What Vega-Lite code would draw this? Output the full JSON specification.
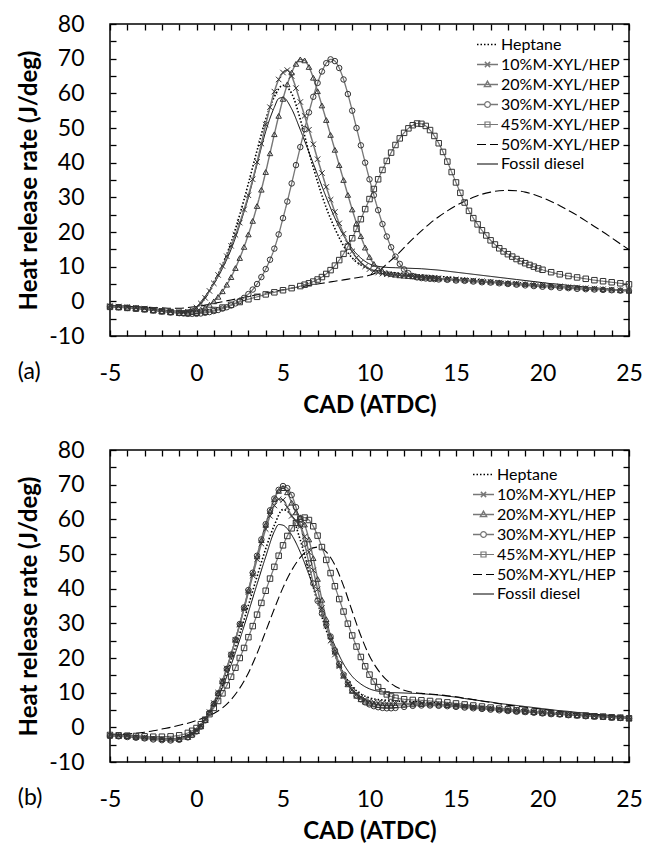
{
"$schema":"https://vega.github.io/schema/vega-lite/v6.json",
"padding":{"left":17,"top":12,"right":5,"bottom":2},
"spacing":20,
"resolve":{"scale":{"color":"independent","strokeDash":"independent","strokeWidth":"independent","shape":"independent"},"legend":{"color":"independent","strokeDash":"independent","strokeWidth":"independent","shape":"independent"}},
"config":{
"view":{"stroke":"black","strokeWidth":1.5},
"font":"Lato",
"axis":{"domain":false,"grid":false,"ticks":true,"tickColor":"black","tickWidth":1.3,"tickSize":-6,"labelFont":"Lato","labelFontSize":23,"labelColor":"black","titleFont":"Lato","titleFontSize":24,"titleFontWeight":"bold","titleColor":"black","labelOverlap":false,"labelFlush":false},
"legend":{"title":null,"labelFont":"Lato","labelFontSize":16,"labelColor":"black","symbolSize":441,"symbolStrokeWidth":1.2,"rowPadding":0,"labelOffset":2,"padding":0,"symbolType":"stroke"}
},
"datasets":{
"names":[{"s":"H","name":"Heptane"},{"s":"10","name":"10%M-XYL/HEP"},{"s":"20","name":"20%M-XYL/HEP"},{"s":"30","name":"30%M-XYL/HEP"},{"s":"45","name":"45%M-XYL/HEP"},{"s":"50","name":"50%M-XYL/HEP"},{"s":"D","name":"Fossil diesel"}],
"a":[
{"s":"H","x":-5,"y":-1.5},{"s":"H","x":-4.5,"y":-1.6},{"s":"H","x":-4,"y":-1.7},{"s":"H","x":-3.5,"y":-1.9},{"s":"H","x":-3,"y":-2.1},{"s":"H","x":-2.5,"y":-2.4},{"s":"H","x":-2,"y":-2.7},{"s":"H","x":-1.5,"y":-3},{"s":"H","x":-1,"y":-3.2},{"s":"H","x":-0.5,"y":-3},{"s":"H","x":0,"y":-2},{"s":"H","x":0.5,"y":1},{"s":"H","x":1,"y":5.5},{"s":"H","x":1.5,"y":10.5},{"s":"H","x":2,"y":17},{"s":"H","x":2.5,"y":25},{"s":"H","x":3,"y":34},{"s":"H","x":3.5,"y":43.5},{"s":"H","x":4,"y":52.5},{"s":"H","x":4.5,"y":59},{"s":"H","x":5,"y":62.3},{"s":"H","x":5.5,"y":60},{"s":"H","x":6,"y":52.5},{"s":"H","x":6.5,"y":43},{"s":"H","x":7,"y":34.5},{"s":"H","x":7.5,"y":27},{"s":"H","x":8,"y":21},{"s":"H","x":8.5,"y":16},{"s":"H","x":9,"y":12.5},{"s":"H","x":9.5,"y":10.5},{"s":"H","x":10,"y":9.3},{"s":"H","x":10.5,"y":8.7},{"s":"H","x":11,"y":8.4},{"s":"H","x":11.5,"y":8.2},{"s":"H","x":12,"y":8},{"s":"H","x":12.5,"y":7.8},{"s":"H","x":13,"y":7.6},{"s":"H","x":13.5,"y":7.4},{"s":"H","x":14,"y":7.2},{"s":"H","x":14.5,"y":7},{"s":"H","x":15,"y":6.8},{"s":"H","x":15.5,"y":6.6},{"s":"H","x":16,"y":6.4},{"s":"H","x":16.5,"y":6.2},{"s":"H","x":17,"y":6},{"s":"H","x":17.5,"y":5.8},{"s":"H","x":18,"y":5.6},{"s":"H","x":18.5,"y":5.4},{"s":"H","x":19,"y":5.2},{"s":"H","x":19.5,"y":5},{"s":"H","x":20,"y":4.8},{"s":"H","x":20.5,"y":4.6},{"s":"H","x":21,"y":4.4},{"s":"H","x":21.5,"y":4.2},{"s":"H","x":22,"y":4.1},{"s":"H","x":22.5,"y":3.9},{"s":"H","x":23,"y":3.7},{"s":"H","x":23.5,"y":3.6},{"s":"H","x":24,"y":3.4},{"s":"H","x":24.5,"y":3.3},{"s":"H","x":25,"y":3.1},
{"s":"D","x":-5,"y":-1.2},{"s":"D","x":-4.5,"y":-1.3},{"s":"D","x":-4,"y":-1.4},{"s":"D","x":-3.5,"y":-1.6},{"s":"D","x":-3,"y":-1.8},{"s":"D","x":-2.5,"y":-2.1},{"s":"D","x":-2,"y":-2.4},{"s":"D","x":-1.5,"y":-2.7},{"s":"D","x":-1,"y":-2.8},{"s":"D","x":-0.5,"y":-2.5},{"s":"D","x":0,"y":-1.5},{"s":"D","x":0.5,"y":1.5},{"s":"D","x":1,"y":5},{"s":"D","x":1.5,"y":9.5},{"s":"D","x":2,"y":15},{"s":"D","x":2.5,"y":22},{"s":"D","x":3,"y":30},{"s":"D","x":3.5,"y":39.5},{"s":"D","x":4,"y":49},{"s":"D","x":4.5,"y":56},{"s":"D","x":4.75,"y":58.5},{"s":"D","x":5,"y":58.8},{"s":"D","x":5.5,"y":55.5},{"s":"D","x":6,"y":49.5},{"s":"D","x":6.5,"y":43},{"s":"D","x":7,"y":36.5},{"s":"D","x":7.5,"y":30},{"s":"D","x":8,"y":24},{"s":"D","x":8.5,"y":19},{"s":"D","x":9,"y":15.2},{"s":"D","x":9.5,"y":12.5},{"s":"D","x":10,"y":10.8},{"s":"D","x":10.5,"y":10.1},{"s":"D","x":11,"y":9.8},{"s":"D","x":11.5,"y":9.7},{"s":"D","x":12,"y":9.6},{"s":"D","x":12.5,"y":9.5},{"s":"D","x":13,"y":9.4},{"s":"D","x":13.5,"y":9.2},{"s":"D","x":14,"y":9},{"s":"D","x":14.5,"y":8.7},{"s":"D","x":15,"y":8.4},{"s":"D","x":15.5,"y":8.1},{"s":"D","x":16,"y":7.8},{"s":"D","x":16.5,"y":7.5},{"s":"D","x":17,"y":7.2},{"s":"D","x":17.5,"y":6.9},{"s":"D","x":18,"y":6.6},{"s":"D","x":18.5,"y":6.3},{"s":"D","x":19,"y":6},{"s":"D","x":19.5,"y":5.7},{"s":"D","x":20,"y":5.4},{"s":"D","x":20.5,"y":5.1},{"s":"D","x":21,"y":4.9},{"s":"D","x":21.5,"y":4.6},{"s":"D","x":22,"y":4.4},{"s":"D","x":22.5,"y":4.1},{"s":"D","x":23,"y":3.9},{"s":"D","x":23.5,"y":3.7},{"s":"D","x":24,"y":3.5},{"s":"D","x":24.5,"y":3.3},{"s":"D","x":25,"y":3.1},
{"s":"50","x":-5,"y":-1.3},{"s":"50","x":-4.5,"y":-1.4},{"s":"50","x":-4,"y":-1.5},{"s":"50","x":-3.5,"y":-1.6},{"s":"50","x":-3,"y":-1.7},{"s":"50","x":-2.5,"y":-1.8},{"s":"50","x":-2,"y":-1.9},{"s":"50","x":-1.5,"y":-2},{"s":"50","x":-1,"y":-2},{"s":"50","x":-0.5,"y":-1.8},{"s":"50","x":0,"y":-1.5},{"s":"50","x":0.5,"y":-1.1},{"s":"50","x":1,"y":-0.6},{"s":"50","x":1.5,"y":-0.1},{"s":"50","x":2,"y":0.4},{"s":"50","x":2.5,"y":0.9},{"s":"50","x":3,"y":1.4},{"s":"50","x":3.5,"y":1.9},{"s":"50","x":4,"y":2.4},{"s":"50","x":4.5,"y":2.9},{"s":"50","x":5,"y":3.3},{"s":"50","x":5.5,"y":3.8},{"s":"50","x":6,"y":4.2},{"s":"50","x":6.5,"y":4.6},{"s":"50","x":7,"y":5},{"s":"50","x":7.5,"y":5.4},{"s":"50","x":8,"y":5.8},{"s":"50","x":8.5,"y":6.2},{"s":"50","x":9,"y":6.6},{"s":"50","x":9.5,"y":7},{"s":"50","x":10,"y":7.5},{"s":"50","x":10.5,"y":8.6},{"s":"50","x":11,"y":10.8},{"s":"50","x":11.5,"y":13},{"s":"50","x":12,"y":15.5},{"s":"50","x":12.5,"y":18},{"s":"50","x":13,"y":20.3},{"s":"50","x":13.5,"y":22.5},{"s":"50","x":14,"y":24.4},{"s":"50","x":14.5,"y":26.1},{"s":"50","x":15,"y":27.6},{"s":"50","x":15.5,"y":28.9},{"s":"50","x":16,"y":30},{"s":"50","x":16.5,"y":30.9},{"s":"50","x":17,"y":31.5},{"s":"50","x":17.5,"y":31.9},{"s":"50","x":18,"y":32},{"s":"50","x":18.5,"y":31.9},{"s":"50","x":19,"y":31.5},{"s":"50","x":19.5,"y":30.8},{"s":"50","x":20,"y":29.9},{"s":"50","x":20.5,"y":28.8},{"s":"50","x":21,"y":27.6},{"s":"50","x":21.5,"y":26.2},{"s":"50","x":22,"y":24.8},{"s":"50","x":22.5,"y":23.2},{"s":"50","x":23,"y":21.6},{"s":"50","x":23.5,"y":20},{"s":"50","x":24,"y":18.3},{"s":"50","x":24.5,"y":16.6},{"s":"50","x":25,"y":14.9},
{"s":"10","x":-5,"y":-1.4},{"s":"10","x":-4.5,"y":-1.5},{"s":"10","x":-4,"y":-1.7},{"s":"10","x":-3.5,"y":-1.9},{"s":"10","x":-3,"y":-2.1},{"s":"10","x":-2.5,"y":-2.4},{"s":"10","x":-2,"y":-2.7},{"s":"10","x":-1.5,"y":-3},{"s":"10","x":-1,"y":-3.2},{"s":"10","x":-0.75,"y":-3.2},{"s":"10","x":-0.5,"y":-3},{"s":"10","x":-0.25,"y":-2.6},{"s":"10","x":0,"y":-1.8},{"s":"10","x":0.25,"y":-0.6},{"s":"10","x":0.5,"y":1},{"s":"10","x":0.75,"y":3},{"s":"10","x":1,"y":5.2},{"s":"10","x":1.25,"y":7.6},{"s":"10","x":1.5,"y":10.2},{"s":"10","x":1.75,"y":13},{"s":"10","x":2,"y":16},{"s":"10","x":2.25,"y":19.2},{"s":"10","x":2.5,"y":22.7},{"s":"10","x":2.75,"y":26.5},{"s":"10","x":3,"y":30.6},{"s":"10","x":3.25,"y":35.2},{"s":"10","x":3.5,"y":40.2},{"s":"10","x":3.75,"y":45.5},{"s":"10","x":4,"y":51},{"s":"10","x":4.25,"y":56},{"s":"10","x":4.5,"y":60.5},{"s":"10","x":4.75,"y":64},{"s":"10","x":5,"y":66},{"s":"10","x":5.25,"y":66.7},{"s":"10","x":5.5,"y":65},{"s":"10","x":5.75,"y":61.5},{"s":"10","x":6,"y":57.5},{"s":"10","x":6.25,"y":53.5},{"s":"10","x":6.5,"y":49.5},{"s":"10","x":6.75,"y":45.3},{"s":"10","x":7,"y":41},{"s":"10","x":7.25,"y":37},{"s":"10","x":7.5,"y":33},{"s":"10","x":7.75,"y":29.3},{"s":"10","x":8,"y":25.8},{"s":"10","x":8.25,"y":22.5},{"s":"10","x":8.5,"y":19.5},{"s":"10","x":8.75,"y":16.8},{"s":"10","x":9,"y":14.4},{"s":"10","x":9.25,"y":12.6},{"s":"10","x":9.5,"y":11.2},{"s":"10","x":9.75,"y":10.1},{"s":"10","x":10,"y":9.3},{"s":"10","x":10.25,"y":8.7},{"s":"10","x":10.5,"y":8.3},{"s":"10","x":10.75,"y":8},{"s":"10","x":11,"y":7.8},{"s":"10","x":11.25,"y":7.7},{"s":"10","x":11.5,"y":7.6},{"s":"10","x":11.75,"y":7.5},{"s":"10","x":12,"y":7.4},{"s":"10","x":12.25,"y":7.3},{"s":"10","x":12.5,"y":7.2},{"s":"10","x":12.75,"y":7.1},{"s":"10","x":13,"y":7},{"s":"10","x":13.25,"y":6.9},{"s":"10","x":13.5,"y":6.8},{"s":"10","x":13.75,"y":6.7},{"s":"10","x":14,"y":6.6},{"s":"10","x":14.5,"y":6.4},{"s":"10","x":15,"y":6.3},{"s":"10","x":15.5,"y":6.1},{"s":"10","x":16,"y":6},{"s":"10","x":16.5,"y":5.8},{"s":"10","x":17,"y":5.6},{"s":"10","x":17.5,"y":5.4},{"s":"10","x":18,"y":5.2},{"s":"10","x":18.5,"y":5.1},{"s":"10","x":19,"y":4.9},{"s":"10","x":19.5,"y":4.7},{"s":"10","x":20,"y":4.6},{"s":"10","x":20.5,"y":4.4},{"s":"10","x":21,"y":4.3},{"s":"10","x":21.5,"y":4.1},{"s":"10","x":22,"y":4},{"s":"10","x":22.5,"y":3.8},{"s":"10","x":23,"y":3.7},{"s":"10","x":23.5,"y":3.5},{"s":"10","x":24,"y":3.4},{"s":"10","x":24.5,"y":3.2},{"s":"10","x":25,"y":3.1},
{"s":"20","x":-5,"y":-1.5},{"s":"20","x":-4.5,"y":-1.6},{"s":"20","x":-4,"y":-1.8},{"s":"20","x":-3.5,"y":-2},{"s":"20","x":-3,"y":-2.2},{"s":"20","x":-2.5,"y":-2.5},{"s":"20","x":-2,"y":-2.8},{"s":"20","x":-1.5,"y":-3.1},{"s":"20","x":-1,"y":-3.3},{"s":"20","x":-0.75,"y":-3.4},{"s":"20","x":-0.5,"y":-3.3},{"s":"20","x":-0.25,"y":-3.1},{"s":"20","x":0,"y":-2.8},{"s":"20","x":0.25,"y":-2.4},{"s":"20","x":0.5,"y":-1.8},{"s":"20","x":0.75,"y":-1},{"s":"20","x":1,"y":0},{"s":"20","x":1.25,"y":1.3},{"s":"20","x":1.5,"y":2.9},{"s":"20","x":1.75,"y":4.8},{"s":"20","x":2,"y":7},{"s":"20","x":2.25,"y":9.6},{"s":"20","x":2.5,"y":12.5},{"s":"20","x":2.75,"y":15.7},{"s":"20","x":3,"y":19.3},{"s":"20","x":3.25,"y":23.2},{"s":"20","x":3.5,"y":27.5},{"s":"20","x":3.75,"y":32.2},{"s":"20","x":4,"y":37.3},{"s":"20","x":4.25,"y":42.7},{"s":"20","x":4.5,"y":48.2},{"s":"20","x":4.75,"y":53.5},{"s":"20","x":5,"y":58.4},{"s":"20","x":5.25,"y":62.6},{"s":"20","x":5.5,"y":66},{"s":"20","x":5.75,"y":68.5},{"s":"20","x":6,"y":69.8},{"s":"20","x":6.25,"y":69.5},{"s":"20","x":6.5,"y":67.6},{"s":"20","x":6.75,"y":64.5},{"s":"20","x":7,"y":60.6},{"s":"20","x":7.25,"y":56.5},{"s":"20","x":7.5,"y":52.3},{"s":"20","x":7.75,"y":48},{"s":"20","x":8,"y":43.7},{"s":"20","x":8.25,"y":39.3},{"s":"20","x":8.5,"y":35},{"s":"20","x":8.75,"y":30.7},{"s":"20","x":9,"y":26.5},{"s":"20","x":9.25,"y":22.5},{"s":"20","x":9.5,"y":18.8},{"s":"20","x":9.75,"y":15.5},{"s":"20","x":10,"y":12.8},{"s":"20","x":10.25,"y":10.8},{"s":"20","x":10.5,"y":9.5},{"s":"20","x":10.75,"y":8.7},{"s":"20","x":11,"y":8.2},{"s":"20","x":11.25,"y":7.9},{"s":"20","x":11.5,"y":7.7},{"s":"20","x":11.75,"y":7.5},{"s":"20","x":12,"y":7.4},{"s":"20","x":12.25,"y":7.3},{"s":"20","x":12.5,"y":7.2},{"s":"20","x":12.75,"y":7.1},{"s":"20","x":13,"y":7},{"s":"20","x":13.25,"y":6.9},{"s":"20","x":13.5,"y":6.8},{"s":"20","x":13.75,"y":6.7},{"s":"20","x":14,"y":6.6},{"s":"20","x":14.5,"y":6.5},{"s":"20","x":15,"y":6.3},{"s":"20","x":15.5,"y":6.2},{"s":"20","x":16,"y":6},{"s":"20","x":16.5,"y":5.8},{"s":"20","x":17,"y":5.7},{"s":"20","x":17.5,"y":5.5},{"s":"20","x":18,"y":5.3},{"s":"20","x":18.5,"y":5.1},{"s":"20","x":19,"y":5},{"s":"20","x":19.5,"y":4.8},{"s":"20","x":20,"y":4.6},{"s":"20","x":20.5,"y":4.5},{"s":"20","x":21,"y":4.3},{"s":"20","x":21.5,"y":4.1},{"s":"20","x":22,"y":4},{"s":"20","x":22.5,"y":3.8},{"s":"20","x":23,"y":3.7},{"s":"20","x":23.5,"y":3.5},{"s":"20","x":24,"y":3.4},{"s":"20","x":24.5,"y":3.2},{"s":"20","x":25,"y":3.1},
{"s":"30","x":-5,"y":-1.6},{"s":"30","x":-4.5,"y":-1.7},{"s":"30","x":-4,"y":-1.9},{"s":"30","x":-3.5,"y":-2.1},{"s":"30","x":-3,"y":-2.3},{"s":"30","x":-2.5,"y":-2.6},{"s":"30","x":-2,"y":-2.9},{"s":"30","x":-1.5,"y":-3.2},{"s":"30","x":-1,"y":-3.4},{"s":"30","x":-0.75,"y":-3.5},{"s":"30","x":-0.5,"y":-3.6},{"s":"30","x":-0.25,"y":-3.6},{"s":"30","x":0,"y":-3.6},{"s":"30","x":0.25,"y":-3.5},{"s":"30","x":0.5,"y":-3.3},{"s":"30","x":0.75,"y":-3.1},{"s":"30","x":1,"y":-2.8},{"s":"30","x":1.25,"y":-2.5},{"s":"30","x":1.5,"y":-2.1},{"s":"30","x":1.75,"y":-1.7},{"s":"30","x":2,"y":-1.2},{"s":"30","x":2.25,"y":-0.6},{"s":"30","x":2.5,"y":0.1},{"s":"30","x":2.75,"y":1},{"s":"30","x":3,"y":2.1},{"s":"30","x":3.25,"y":3.4},{"s":"30","x":3.5,"y":5},{"s":"30","x":3.75,"y":7},{"s":"30","x":4,"y":9.3},{"s":"30","x":4.25,"y":12},{"s":"30","x":4.5,"y":15.2},{"s":"30","x":4.75,"y":19.3},{"s":"30","x":5,"y":24},{"s":"30","x":5.25,"y":28.8},{"s":"30","x":5.5,"y":34},{"s":"30","x":5.75,"y":39.3},{"s":"30","x":6,"y":44.5},{"s":"30","x":6.25,"y":49.7},{"s":"30","x":6.5,"y":54.5},{"s":"30","x":6.75,"y":59},{"s":"30","x":7,"y":63},{"s":"30","x":7.25,"y":66.3},{"s":"30","x":7.5,"y":68.7},{"s":"30","x":7.75,"y":69.8},{"s":"30","x":8,"y":69.3},{"s":"30","x":8.25,"y":67.3},{"s":"30","x":8.5,"y":64},{"s":"30","x":8.75,"y":59.8},{"s":"30","x":9,"y":55},{"s":"30","x":9.25,"y":50},{"s":"30","x":9.5,"y":45},{"s":"30","x":9.75,"y":40},{"s":"30","x":10,"y":35.2},{"s":"30","x":10.25,"y":30.6},{"s":"30","x":10.5,"y":26.3},{"s":"30","x":10.75,"y":22.3},{"s":"30","x":11,"y":18.7},{"s":"30","x":11.25,"y":15.6},{"s":"30","x":11.5,"y":12.9},{"s":"30","x":11.75,"y":10.8},{"s":"30","x":12,"y":9.2},{"s":"30","x":12.25,"y":8.1},{"s":"30","x":12.5,"y":7.3},{"s":"30","x":12.75,"y":6.9},{"s":"30","x":13,"y":6.7},{"s":"30","x":13.25,"y":6.6},{"s":"30","x":13.5,"y":6.5},{"s":"30","x":13.75,"y":6.4},{"s":"30","x":14,"y":6.3},{"s":"30","x":14.5,"y":6.2},{"s":"30","x":15,"y":6},{"s":"30","x":15.5,"y":5.9},{"s":"30","x":16,"y":5.7},{"s":"30","x":16.5,"y":5.5},{"s":"30","x":17,"y":5.4},{"s":"30","x":17.5,"y":5.2},{"s":"30","x":18,"y":5},{"s":"30","x":18.5,"y":4.8},{"s":"30","x":19,"y":4.6},{"s":"30","x":19.5,"y":4.4},{"s":"30","x":20,"y":4.2},{"s":"30","x":20.5,"y":4.1},{"s":"30","x":21,"y":3.9},{"s":"30","x":21.5,"y":3.8},{"s":"30","x":22,"y":3.6},{"s":"30","x":22.5,"y":3.5},{"s":"30","x":23,"y":3.4},{"s":"30","x":23.5,"y":3.3},{"s":"30","x":24,"y":3.2},{"s":"30","x":24.5,"y":3.1},{"s":"30","x":25,"y":3},
{"s":"45","x":-5,"y":-1.6},{"s":"45","x":-4.5,"y":-1.7},{"s":"45","x":-4,"y":-1.9},{"s":"45","x":-3.5,"y":-2.1},{"s":"45","x":-3,"y":-2.3},{"s":"45","x":-2.5,"y":-2.6},{"s":"45","x":-2,"y":-2.9},{"s":"45","x":-1.5,"y":-3.1},{"s":"45","x":-1,"y":-3.3},{"s":"45","x":-0.5,"y":-3.4},{"s":"45","x":0,"y":-3.3},{"s":"45","x":0.5,"y":-3},{"s":"45","x":1,"y":-2.5},{"s":"45","x":1.5,"y":-1.8},{"s":"45","x":2,"y":-1},{"s":"45","x":2.5,"y":-0.2},{"s":"45","x":3,"y":0.6},{"s":"45","x":3.5,"y":1.3},{"s":"45","x":4,"y":2},{"s":"45","x":4.5,"y":2.6},{"s":"45","x":5,"y":3.2},{"s":"45","x":5.5,"y":3.8},{"s":"45","x":6,"y":4.4},{"s":"45","x":6.25,"y":4.8},{"s":"45","x":6.5,"y":5.2},{"s":"45","x":6.75,"y":5.7},{"s":"45","x":7,"y":6.3},{"s":"45","x":7.25,"y":7},{"s":"45","x":7.5,"y":7.9},{"s":"45","x":7.75,"y":9},{"s":"45","x":8,"y":10.3},{"s":"45","x":8.25,"y":11.9},{"s":"45","x":8.5,"y":13.7},{"s":"45","x":8.75,"y":15.8},{"s":"45","x":9,"y":18.2},{"s":"45","x":9.25,"y":20.9},{"s":"45","x":9.5,"y":23.7},{"s":"45","x":9.75,"y":26.6},{"s":"45","x":10,"y":29.5},{"s":"45","x":10.25,"y":32.4},{"s":"45","x":10.5,"y":35.2},{"s":"45","x":10.75,"y":37.9},{"s":"45","x":11,"y":40.5},{"s":"45","x":11.25,"y":42.9},{"s":"45","x":11.5,"y":45.1},{"s":"45","x":11.75,"y":47},{"s":"45","x":12,"y":48.6},{"s":"45","x":12.25,"y":49.9},{"s":"45","x":12.5,"y":50.8},{"s":"45","x":12.75,"y":51.3},{"s":"45","x":13,"y":51.2},{"s":"45","x":13.25,"y":50.6},{"s":"45","x":13.5,"y":49.4},{"s":"45","x":13.75,"y":47.7},{"s":"45","x":14,"y":45.6},{"s":"45","x":14.25,"y":43.1},{"s":"45","x":14.5,"y":40.3},{"s":"45","x":14.75,"y":37.3},{"s":"45","x":15,"y":34.3},{"s":"45","x":15.25,"y":31.3},{"s":"45","x":15.5,"y":28.5},{"s":"45","x":15.75,"y":26.1},{"s":"45","x":16,"y":24},{"s":"45","x":16.25,"y":22.2},{"s":"45","x":16.5,"y":20.5},{"s":"45","x":16.75,"y":19},{"s":"45","x":17,"y":17.6},{"s":"45","x":17.25,"y":16.4},{"s":"45","x":17.5,"y":15.3},{"s":"45","x":17.75,"y":14.4},{"s":"45","x":18,"y":13.6},{"s":"45","x":18.25,"y":12.9},{"s":"45","x":18.5,"y":12.2},{"s":"45","x":18.75,"y":11.6},{"s":"45","x":19,"y":11},{"s":"45","x":19.25,"y":10.5},{"s":"45","x":19.5,"y":10},{"s":"45","x":19.75,"y":9.5},{"s":"45","x":20,"y":9.1},{"s":"45","x":20.5,"y":8.4},{"s":"45","x":21,"y":7.8},{"s":"45","x":21.5,"y":7.3},{"s":"45","x":22,"y":6.9},{"s":"45","x":22.5,"y":6.5},{"s":"45","x":23,"y":6.1},{"s":"45","x":23.5,"y":5.8},{"s":"45","x":24,"y":5.5},{"s":"45","x":24.5,"y":5.2},{"s":"45","x":25,"y":4.9}
],
"b":[
{"s":"H","x":-5,"y":-2.2},{"s":"H","x":-4.5,"y":-2.3},{"s":"H","x":-4,"y":-2.4},{"s":"H","x":-3.5,"y":-2.6},{"s":"H","x":-3,"y":-2.8},{"s":"H","x":-2.5,"y":-3},{"s":"H","x":-2,"y":-3.2},{"s":"H","x":-1.5,"y":-3.3},{"s":"H","x":-1,"y":-3.1},{"s":"H","x":-0.5,"y":-2.4},{"s":"H","x":0,"y":-0.8},{"s":"H","x":0.5,"y":2.3},{"s":"H","x":1,"y":6.5},{"s":"H","x":1.5,"y":12.3},{"s":"H","x":2,"y":19.3},{"s":"H","x":2.5,"y":27},{"s":"H","x":3,"y":35.2},{"s":"H","x":3.5,"y":43.5},{"s":"H","x":4,"y":51.5},{"s":"H","x":4.5,"y":58.3},{"s":"H","x":5,"y":62.8},{"s":"H","x":5.5,"y":61},{"s":"H","x":6,"y":54},{"s":"H","x":6.5,"y":45},{"s":"H","x":7,"y":36},{"s":"H","x":7.5,"y":28},{"s":"H","x":8,"y":21},{"s":"H","x":8.5,"y":15.5},{"s":"H","x":9,"y":11.8},{"s":"H","x":9.5,"y":9.6},{"s":"H","x":10,"y":8.5},{"s":"H","x":10.5,"y":8},{"s":"H","x":11,"y":7.8},{"s":"H","x":11.5,"y":7.6},{"s":"H","x":12,"y":7.5},{"s":"H","x":12.5,"y":7.4},{"s":"H","x":13,"y":7.3},{"s":"H","x":13.5,"y":7.1},{"s":"H","x":14,"y":7},{"s":"H","x":14.5,"y":6.8},{"s":"H","x":15,"y":6.6},{"s":"H","x":15.5,"y":6.4},{"s":"H","x":16,"y":6.2},{"s":"H","x":16.5,"y":6},{"s":"H","x":17,"y":5.8},{"s":"H","x":17.5,"y":5.5},{"s":"H","x":18,"y":5.3},{"s":"H","x":18.5,"y":5.1},{"s":"H","x":19,"y":4.9},{"s":"H","x":19.5,"y":4.7},{"s":"H","x":20,"y":4.5},{"s":"H","x":20.5,"y":4.3},{"s":"H","x":21,"y":4.1},{"s":"H","x":21.5,"y":3.9},{"s":"H","x":22,"y":3.8},{"s":"H","x":22.5,"y":3.6},{"s":"H","x":23,"y":3.4},{"s":"H","x":23.5,"y":3.3},{"s":"H","x":24,"y":3.1},{"s":"H","x":24.5,"y":2.9},{"s":"H","x":25,"y":2.8},
{"s":"D","x":-5,"y":-2},{"s":"D","x":-4.5,"y":-2.1},{"s":"D","x":-4,"y":-2.3},{"s":"D","x":-3.5,"y":-2.5},{"s":"D","x":-3,"y":-2.7},{"s":"D","x":-2.5,"y":-3},{"s":"D","x":-2,"y":-3.2},{"s":"D","x":-1.5,"y":-3.3},{"s":"D","x":-1,"y":-3},{"s":"D","x":-0.5,"y":-2.2},{"s":"D","x":0,"y":-0.6},{"s":"D","x":0.5,"y":2.3},{"s":"D","x":1,"y":6.2},{"s":"D","x":1.5,"y":11.5},{"s":"D","x":2,"y":18},{"s":"D","x":2.5,"y":25.3},{"s":"D","x":3,"y":33.2},{"s":"D","x":3.5,"y":41.3},{"s":"D","x":4,"y":49.2},{"s":"D","x":4.5,"y":56.5},{"s":"D","x":4.75,"y":58.5},{"s":"D","x":5,"y":58.3},{"s":"D","x":5.5,"y":55.5},{"s":"D","x":6,"y":50.5},{"s":"D","x":6.5,"y":44},{"s":"D","x":7,"y":37},{"s":"D","x":7.5,"y":30},{"s":"D","x":8,"y":23.5},{"s":"D","x":8.5,"y":18.3},{"s":"D","x":9,"y":14.7},{"s":"D","x":9.5,"y":12.5},{"s":"D","x":10,"y":11.1},{"s":"D","x":10.5,"y":10.4},{"s":"D","x":11,"y":10.1},{"s":"D","x":11.5,"y":10},{"s":"D","x":12,"y":9.9},{"s":"D","x":12.5,"y":9.8},{"s":"D","x":13,"y":9.7},{"s":"D","x":13.5,"y":9.5},{"s":"D","x":14,"y":9.3},{"s":"D","x":14.5,"y":9},{"s":"D","x":15,"y":8.7},{"s":"D","x":15.5,"y":8.3},{"s":"D","x":16,"y":8},{"s":"D","x":16.5,"y":7.6},{"s":"D","x":17,"y":7.3},{"s":"D","x":17.5,"y":6.9},{"s":"D","x":18,"y":6.6},{"s":"D","x":18.5,"y":6.3},{"s":"D","x":19,"y":6},{"s":"D","x":19.5,"y":5.7},{"s":"D","x":20,"y":5.4},{"s":"D","x":20.5,"y":5.1},{"s":"D","x":21,"y":4.8},{"s":"D","x":21.5,"y":4.6},{"s":"D","x":22,"y":4.3},{"s":"D","x":22.5,"y":4.1},{"s":"D","x":23,"y":3.8},{"s":"D","x":23.5,"y":3.6},{"s":"D","x":24,"y":3.4},{"s":"D","x":24.5,"y":3.1},{"s":"D","x":25,"y":2.9},
{"s":"50","x":-5,"y":-2},{"s":"50","x":-4.5,"y":-2},{"s":"50","x":-4,"y":-1.9},{"s":"50","x":-3.5,"y":-1.7},{"s":"50","x":-3,"y":-1.4},{"s":"50","x":-2.5,"y":-1},{"s":"50","x":-2,"y":-0.5},{"s":"50","x":-1.5,"y":0},{"s":"50","x":-1,"y":0.6},{"s":"50","x":-0.5,"y":1.2},{"s":"50","x":0,"y":2},{"s":"50","x":0.5,"y":2.9},{"s":"50","x":1,"y":4},{"s":"50","x":1.5,"y":5.6},{"s":"50","x":2,"y":8},{"s":"50","x":2.5,"y":11.3},{"s":"50","x":3,"y":15.7},{"s":"50","x":3.5,"y":21.3},{"s":"50","x":4,"y":27.7},{"s":"50","x":4.5,"y":34.2},{"s":"50","x":5,"y":40.3},{"s":"50","x":5.5,"y":45.3},{"s":"50","x":6,"y":49},{"s":"50","x":6.5,"y":51.3},{"s":"50","x":7,"y":52},{"s":"50","x":7.5,"y":50.6},{"s":"50","x":8,"y":46.8},{"s":"50","x":8.5,"y":40.8},{"s":"50","x":9,"y":33.5},{"s":"50","x":9.5,"y":26.4},{"s":"50","x":10,"y":20.6},{"s":"50","x":10.5,"y":16.5},{"s":"50","x":11,"y":13.6},{"s":"50","x":11.5,"y":11.8},{"s":"50","x":12,"y":10.7},{"s":"50","x":12.5,"y":10.1},{"s":"50","x":13,"y":9.8},{"s":"50","x":13.5,"y":9.6},{"s":"50","x":14,"y":9.4},{"s":"50","x":14.5,"y":9.1},{"s":"50","x":15,"y":8.8},{"s":"50","x":15.5,"y":8.4},{"s":"50","x":16,"y":8},{"s":"50","x":16.5,"y":7.6},{"s":"50","x":17,"y":7.2},{"s":"50","x":17.5,"y":6.8},{"s":"50","x":18,"y":6.4},{"s":"50","x":18.5,"y":6.1},{"s":"50","x":19,"y":5.8},{"s":"50","x":19.5,"y":5.5},{"s":"50","x":20,"y":5.2},{"s":"50","x":20.5,"y":4.9},{"s":"50","x":21,"y":4.6},{"s":"50","x":21.5,"y":4.3},{"s":"50","x":22,"y":4},{"s":"50","x":22.5,"y":3.8},{"s":"50","x":23,"y":3.5},{"s":"50","x":23.5,"y":3.3},{"s":"50","x":24,"y":3.1},{"s":"50","x":24.5,"y":2.9},{"s":"50","x":25,"y":2.7},
{"s":"10","x":-5,"y":-2.3},{"s":"10","x":-4.5,"y":-2.4},{"s":"10","x":-4,"y":-2.5},{"s":"10","x":-3.5,"y":-2.7},{"s":"10","x":-3,"y":-2.9},{"s":"10","x":-2.5,"y":-3.1},{"s":"10","x":-2,"y":-3.3},{"s":"10","x":-1.5,"y":-3.4},{"s":"10","x":-1,"y":-3.3},{"s":"10","x":-0.5,"y":-2.7},{"s":"10","x":-0.25,"y":-2},{"s":"10","x":0,"y":-1},{"s":"10","x":0.25,"y":0.4},{"s":"10","x":0.5,"y":2.2},{"s":"10","x":0.75,"y":4.4},{"s":"10","x":1,"y":7},{"s":"10","x":1.25,"y":10},{"s":"10","x":1.5,"y":13.4},{"s":"10","x":1.75,"y":17},{"s":"10","x":2,"y":21},{"s":"10","x":2.25,"y":25.2},{"s":"10","x":2.5,"y":29.6},{"s":"10","x":2.75,"y":34.2},{"s":"10","x":3,"y":39},{"s":"10","x":3.25,"y":43.8},{"s":"10","x":3.5,"y":48.5},{"s":"10","x":3.75,"y":53},{"s":"10","x":4,"y":57.2},{"s":"10","x":4.25,"y":61},{"s":"10","x":4.5,"y":64},{"s":"10","x":4.75,"y":65.8},{"s":"10","x":5,"y":65.6},{"s":"10","x":5.25,"y":63.5},{"s":"10","x":5.5,"y":61},{"s":"10","x":5.75,"y":59.6},{"s":"10","x":6,"y":58},{"s":"10","x":6.25,"y":55},{"s":"10","x":6.5,"y":50.5},{"s":"10","x":6.75,"y":45.3},{"s":"10","x":7,"y":39.8},{"s":"10","x":7.25,"y":34.4},{"s":"10","x":7.5,"y":29.4},{"s":"10","x":7.75,"y":25},{"s":"10","x":8,"y":21},{"s":"10","x":8.25,"y":17.6},{"s":"10","x":8.5,"y":14.8},{"s":"10","x":8.75,"y":12.5},{"s":"10","x":9,"y":10.8},{"s":"10","x":9.25,"y":9.6},{"s":"10","x":9.5,"y":8.7},{"s":"10","x":9.75,"y":8.1},{"s":"10","x":10,"y":7.6},{"s":"10","x":10.25,"y":7.3},{"s":"10","x":10.5,"y":7.1},{"s":"10","x":10.75,"y":7},{"s":"10","x":11,"y":6.9},{"s":"10","x":11.25,"y":6.9},{"s":"10","x":11.5,"y":6.9},{"s":"10","x":12,"y":6.9},{"s":"10","x":12.5,"y":6.9},{"s":"10","x":13,"y":6.9},{"s":"10","x":13.5,"y":6.8},{"s":"10","x":14,"y":6.7},{"s":"10","x":14.5,"y":6.5},{"s":"10","x":15,"y":6.3},{"s":"10","x":15.5,"y":6.1},{"s":"10","x":16,"y":5.9},{"s":"10","x":16.5,"y":5.7},{"s":"10","x":17,"y":5.5},{"s":"10","x":17.5,"y":5.3},{"s":"10","x":18,"y":5.1},{"s":"10","x":18.5,"y":4.9},{"s":"10","x":19,"y":4.7},{"s":"10","x":19.5,"y":4.5},{"s":"10","x":20,"y":4.3},{"s":"10","x":20.5,"y":4.1},{"s":"10","x":21,"y":3.9},{"s":"10","x":21.5,"y":3.7},{"s":"10","x":22,"y":3.6},{"s":"10","x":22.5,"y":3.4},{"s":"10","x":23,"y":3.2},{"s":"10","x":23.5,"y":3.1},{"s":"10","x":24,"y":2.9},{"s":"10","x":24.5,"y":2.8},{"s":"10","x":25,"y":2.6},
{"s":"20","x":-5,"y":-2.4},{"s":"20","x":-4.5,"y":-2.5},{"s":"20","x":-4,"y":-2.6},{"s":"20","x":-3.5,"y":-2.8},{"s":"20","x":-3,"y":-3},{"s":"20","x":-2.5,"y":-3.2},{"s":"20","x":-2,"y":-3.4},{"s":"20","x":-1.5,"y":-3.5},{"s":"20","x":-1,"y":-3.4},{"s":"20","x":-0.5,"y":-2.8},{"s":"20","x":-0.25,"y":-2.1},{"s":"20","x":0,"y":-1.1},{"s":"20","x":0.25,"y":0.3},{"s":"20","x":0.5,"y":2.1},{"s":"20","x":0.75,"y":4.3},{"s":"20","x":1,"y":6.9},{"s":"20","x":1.25,"y":9.9},{"s":"20","x":1.5,"y":13.3},{"s":"20","x":1.75,"y":17},{"s":"20","x":2,"y":21},{"s":"20","x":2.25,"y":25.3},{"s":"20","x":2.5,"y":29.8},{"s":"20","x":2.75,"y":34.5},{"s":"20","x":3,"y":39.4},{"s":"20","x":3.25,"y":44.4},{"s":"20","x":3.5,"y":49.3},{"s":"20","x":3.75,"y":54},{"s":"20","x":4,"y":58.4},{"s":"20","x":4.25,"y":62.4},{"s":"20","x":4.5,"y":65.8},{"s":"20","x":4.75,"y":68.2},{"s":"20","x":5,"y":69},{"s":"20","x":5.25,"y":67.8},{"s":"20","x":5.5,"y":64.8},{"s":"20","x":5.75,"y":62},{"s":"20","x":6,"y":60.6},{"s":"20","x":6.25,"y":58.5},{"s":"20","x":6.5,"y":54.2},{"s":"20","x":6.75,"y":48.8},{"s":"20","x":7,"y":42.8},{"s":"20","x":7.25,"y":36.8},{"s":"20","x":7.5,"y":31.2},{"s":"20","x":7.75,"y":26.2},{"s":"20","x":8,"y":21.8},{"s":"20","x":8.25,"y":18},{"s":"20","x":8.5,"y":14.9},{"s":"20","x":8.75,"y":12.4},{"s":"20","x":9,"y":10.5},{"s":"20","x":9.25,"y":9.1},{"s":"20","x":9.5,"y":8.1},{"s":"20","x":9.75,"y":7.4},{"s":"20","x":10,"y":6.9},{"s":"20","x":10.25,"y":6.6},{"s":"20","x":10.5,"y":6.4},{"s":"20","x":10.75,"y":6.3},{"s":"20","x":11,"y":6.3},{"s":"20","x":11.25,"y":6.3},{"s":"20","x":11.5,"y":6.4},{"s":"20","x":12,"y":6.5},{"s":"20","x":12.5,"y":6.6},{"s":"20","x":13,"y":6.7},{"s":"20","x":13.5,"y":6.6},{"s":"20","x":14,"y":6.5},{"s":"20","x":14.5,"y":6.4},{"s":"20","x":15,"y":6.2},{"s":"20","x":15.5,"y":6},{"s":"20","x":16,"y":5.8},{"s":"20","x":16.5,"y":5.6},{"s":"20","x":17,"y":5.4},{"s":"20","x":17.5,"y":5.2},{"s":"20","x":18,"y":5},{"s":"20","x":18.5,"y":4.8},{"s":"20","x":19,"y":4.6},{"s":"20","x":19.5,"y":4.4},{"s":"20","x":20,"y":4.2},{"s":"20","x":20.5,"y":4},{"s":"20","x":21,"y":3.8},{"s":"20","x":21.5,"y":3.7},{"s":"20","x":22,"y":3.5},{"s":"20","x":22.5,"y":3.4},{"s":"20","x":23,"y":3.2},{"s":"20","x":23.5,"y":3.1},{"s":"20","x":24,"y":2.9},{"s":"20","x":24.5,"y":2.8},{"s":"20","x":25,"y":2.6},
{"s":"30","x":-5,"y":-2.5},{"s":"30","x":-4.5,"y":-2.6},{"s":"30","x":-4,"y":-2.8},{"s":"30","x":-3.5,"y":-3},{"s":"30","x":-3,"y":-3.2},{"s":"30","x":-2.5,"y":-3.5},{"s":"30","x":-2,"y":-3.7},{"s":"30","x":-1.5,"y":-3.8},{"s":"30","x":-1,"y":-3.6},{"s":"30","x":-0.5,"y":-2.9},{"s":"30","x":-0.25,"y":-2.2},{"s":"30","x":0,"y":-1.2},{"s":"30","x":0.25,"y":0.2},{"s":"30","x":0.5,"y":2},{"s":"30","x":0.75,"y":4.2},{"s":"30","x":1,"y":6.8},{"s":"30","x":1.25,"y":9.8},{"s":"30","x":1.5,"y":13.2},{"s":"30","x":1.75,"y":16.9},{"s":"30","x":2,"y":21},{"s":"30","x":2.25,"y":25.3},{"s":"30","x":2.5,"y":29.8},{"s":"30","x":2.75,"y":34.6},{"s":"30","x":3,"y":39.6},{"s":"30","x":3.25,"y":44.6},{"s":"30","x":3.5,"y":49.5},{"s":"30","x":3.75,"y":54.2},{"s":"30","x":4,"y":58.6},{"s":"30","x":4.25,"y":62.6},{"s":"30","x":4.5,"y":66},{"s":"30","x":4.75,"y":68.5},{"s":"30","x":5,"y":69.6},{"s":"30","x":5.25,"y":69},{"s":"30","x":5.5,"y":67},{"s":"30","x":5.75,"y":63.5},{"s":"30","x":6,"y":58.5},{"s":"30","x":6.25,"y":53},{"s":"30","x":6.5,"y":47.3},{"s":"30","x":6.75,"y":41.5},{"s":"30","x":7,"y":36.5},{"s":"30","x":7.25,"y":32.8},{"s":"30","x":7.5,"y":29.6},{"s":"30","x":7.75,"y":26.2},{"s":"30","x":8,"y":22.2},{"s":"30","x":8.25,"y":18.3},{"s":"30","x":8.5,"y":15.2},{"s":"30","x":8.75,"y":12.7},{"s":"30","x":9,"y":10.7},{"s":"30","x":9.25,"y":9.2},{"s":"30","x":9.5,"y":8.1},{"s":"30","x":9.75,"y":7.2},{"s":"30","x":10,"y":6.6},{"s":"30","x":10.25,"y":6.1},{"s":"30","x":10.5,"y":5.8},{"s":"30","x":10.75,"y":5.6},{"s":"30","x":11,"y":5.5},{"s":"30","x":11.25,"y":5.5},{"s":"30","x":11.5,"y":5.6},{"s":"30","x":12,"y":5.9},{"s":"30","x":12.5,"y":6.2},{"s":"30","x":13,"y":6.3},{"s":"30","x":13.5,"y":6.3},{"s":"30","x":14,"y":6.2},{"s":"30","x":14.5,"y":6.1},{"s":"30","x":15,"y":5.9},{"s":"30","x":15.5,"y":5.7},{"s":"30","x":16,"y":5.5},{"s":"30","x":16.5,"y":5.3},{"s":"30","x":17,"y":5.1},{"s":"30","x":17.5,"y":4.9},{"s":"30","x":18,"y":4.7},{"s":"30","x":18.5,"y":4.5},{"s":"30","x":19,"y":4.4},{"s":"30","x":19.5,"y":4.2},{"s":"30","x":20,"y":4},{"s":"30","x":20.5,"y":3.8},{"s":"30","x":21,"y":3.7},{"s":"30","x":21.5,"y":3.5},{"s":"30","x":22,"y":3.4},{"s":"30","x":22.5,"y":3.2},{"s":"30","x":23,"y":3.1},{"s":"30","x":23.5,"y":3},{"s":"30","x":24,"y":2.8},{"s":"30","x":24.5,"y":2.7},{"s":"30","x":25,"y":2.6},
{"s":"45","x":-5,"y":-2.2},{"s":"45","x":-4.5,"y":-2.3},{"s":"45","x":-4,"y":-2.4},{"s":"45","x":-3.5,"y":-2.5},{"s":"45","x":-3,"y":-2.6},{"s":"45","x":-2.5,"y":-2.7},{"s":"45","x":-2,"y":-2.7},{"s":"45","x":-1.5,"y":-2.6},{"s":"45","x":-1,"y":-2.3},{"s":"45","x":-0.5,"y":-1.6},{"s":"45","x":-0.25,"y":-1},{"s":"45","x":0,"y":-0.2},{"s":"45","x":0.25,"y":0.9},{"s":"45","x":0.5,"y":2.2},{"s":"45","x":0.75,"y":3.8},{"s":"45","x":1,"y":5.6},{"s":"45","x":1.25,"y":7.6},{"s":"45","x":1.5,"y":9.8},{"s":"45","x":1.75,"y":12.1},{"s":"45","x":2,"y":14.6},{"s":"45","x":2.25,"y":17.2},{"s":"45","x":2.5,"y":20},{"s":"45","x":2.75,"y":22.9},{"s":"45","x":3,"y":26},{"s":"45","x":3.25,"y":29.2},{"s":"45","x":3.5,"y":32.5},{"s":"45","x":3.75,"y":35.9},{"s":"45","x":4,"y":39.4},{"s":"45","x":4.25,"y":42.9},{"s":"45","x":4.5,"y":46.3},{"s":"45","x":4.75,"y":49.5},{"s":"45","x":5,"y":52.5},{"s":"45","x":5.25,"y":55.2},{"s":"45","x":5.5,"y":57.4},{"s":"45","x":5.75,"y":59},{"s":"45","x":6,"y":60.1},{"s":"45","x":6.25,"y":60.5},{"s":"45","x":6.5,"y":59.8},{"s":"45","x":6.75,"y":58},{"s":"45","x":7,"y":55.3},{"s":"45","x":7.25,"y":52},{"s":"45","x":7.5,"y":48.3},{"s":"45","x":7.75,"y":44.5},{"s":"45","x":8,"y":40.7},{"s":"45","x":8.25,"y":37},{"s":"45","x":8.5,"y":33.4},{"s":"45","x":8.75,"y":29.9},{"s":"45","x":9,"y":26.5},{"s":"45","x":9.25,"y":23.3},{"s":"45","x":9.5,"y":20.3},{"s":"45","x":9.75,"y":17.6},{"s":"45","x":10,"y":15.2},{"s":"45","x":10.25,"y":13.2},{"s":"45","x":10.5,"y":11.6},{"s":"45","x":10.75,"y":10.4},{"s":"45","x":11,"y":9.5},{"s":"45","x":11.25,"y":8.9},{"s":"45","x":11.5,"y":8.5},{"s":"45","x":12,"y":8.1},{"s":"45","x":12.5,"y":7.9},{"s":"45","x":13,"y":7.8},{"s":"45","x":13.5,"y":7.6},{"s":"45","x":14,"y":7.4},{"s":"45","x":14.5,"y":7.2},{"s":"45","x":15,"y":6.9},{"s":"45","x":15.5,"y":6.6},{"s":"45","x":16,"y":6.3},{"s":"45","x":16.5,"y":6},{"s":"45","x":17,"y":5.7},{"s":"45","x":17.5,"y":5.4},{"s":"45","x":18,"y":5.2},{"s":"45","x":18.5,"y":4.9},{"s":"45","x":19,"y":4.7},{"s":"45","x":19.5,"y":4.5},{"s":"45","x":20,"y":4.3},{"s":"45","x":20.5,"y":4.1},{"s":"45","x":21,"y":3.9},{"s":"45","x":21.5,"y":3.7},{"s":"45","x":22,"y":3.5},{"s":"45","x":22.5,"y":3.4},{"s":"45","x":23,"y":3.2},{"s":"45","x":23.5,"y":3.1},{"s":"45","x":24,"y":2.9},{"s":"45","x":24.5,"y":2.8},{"s":"45","x":25,"y":2.6}
]
},
"vconcat":[
{
"width":519,"height":312,
"data":{"name":"a"},
"transform":[{"lookup":"s","from":{"data":{"name":"names"},"key":"s","fields":["name"]}}],
"title":{"text":"(a)","orient":"bottom","anchor":"start","frame":"bounds","offset":-56,"fontSize":23,"fontWeight":"normal","font":"Lato","color":"black","baseline":"top"},
"resolve":{"axis":{"x":"independent","y":"independent"}},
"layer":[
{"mark":{"type":"line","interpolate":"monotone","clip":false},
"encoding":{
"x":{"field":"x","type":"quantitative","scale":{"domain":[-5,25],"nice":false,"zero":false},"axis":{"orient":"bottom","values":[-5,-4,-3,-2,-1,0,1,2,3,4,5,6,7,8,9,10,11,12,13,14,15,16,17,18,19,20,21,22,23,24,25],"labelExpr":"datum.value % 5 === 0 ? '' + datum.value : ''","title":"CAD (ATDC)","labelPadding":32,"titlePadding":8}},
"y":{"field":"y","type":"quantitative","scale":{"domain":[-10,80],"nice":false,"zero":false},"axis":{"orient":"left","values":[-10,-5,0,5,10,15,20,25,30,35,40,45,50,55,60,65,70,75,80],"labelExpr":"datum.value % 10 === 0 ? '' + datum.value : ''","title":"Heat release rate (J/deg)","labelPadding":32,"titlePadding":7}},
"color":{"field":"name","type":"nominal","scale":{"domain":["Heptane","10%M-XYL/HEP","20%M-XYL/HEP","30%M-XYL/HEP","45%M-XYL/HEP","50%M-XYL/HEP","Fossil diesel"],"range":["#000000","#777777","#777777","#777777","#777777","#000000","#000000"]},
"legend":{"orient":"top-right","offset":9,"encode":{"symbols":{"update":{"shape":{"signal":"datum.value === '10%M-XYL/HEP' ? 'M-1,0H1M-0.25,-0.25L0.25,0.25M-0.25,0.25L0.25,-0.25' : datum.value === '20%M-XYL/HEP' ? 'M-1,0H1M0,-0.32L0.3,0.2L-0.3,0.2Z' : datum.value === '30%M-XYL/HEP' ? 'M-1,0H-0.27M0.27,0H1M0.27,0A0.27,0.27 0 1,1 -0.27,0A0.27,0.27 0 1,1 0.27,0' : datum.value === '45%M-XYL/HEP' ? 'M-1,0H1M-0.24,-0.24H0.24V0.24H-0.24Z' : 'M-1,0H1'"},"strokeDash":{"signal":"datum.value === 'Heptane' ? [1.5,1.5] : datum.value === '50%M-XYL/HEP' ? [11,4] : [1,0]"}}}}}},
"strokeDash":{"field":"name","type":"nominal","scale":{"domain":["Heptane","10%M-XYL/HEP","20%M-XYL/HEP","30%M-XYL/HEP","45%M-XYL/HEP","50%M-XYL/HEP","Fossil diesel"],"range":[[1.5,2],[1,0],[1,0],[1,0],[1,0],[9,4],[1,0]]},"legend":null},
"strokeWidth":{"field":"name","type":"ordinal","scale":{"domain":["Heptane","10%M-XYL/HEP","20%M-XYL/HEP","30%M-XYL/HEP","45%M-XYL/HEP","50%M-XYL/HEP","Fossil diesel"],"range":[1.6,1,1,1,1,1.5,1.5]},"legend":null}
}},
{"transform":[{"filter":"indexof(['10','20','30','45'], datum.s) >= 0"}],
"mark":{"type":"point","filled":false,"size":30,"strokeWidth":1,"color":"#333333","opacity":1,"clip":false},
"encoding":{
"x":{"field":"x","type":"quantitative","axis":{"orient":"top","values":[-5,-4,-3,-2,-1,0,1,2,3,4,5,6,7,8,9,10,11,12,13,14,15,16,17,18,19,20,21,22,23,24,25],"labels":false,"title":null}},
"y":{"field":"y","type":"quantitative","axis":{"orient":"right","values":[-10,-5,0,5,10,15,20,25,30,35,40,45,50,55,60,65,70,75,80],"labels":false,"title":null}},
"shape":{"field":"name","type":"nominal","scale":{"domain":["10%M-XYL/HEP","20%M-XYL/HEP","30%M-XYL/HEP","45%M-XYL/HEP"],"range":["M-1,-1L1,1M-1,1L1,-1","triangle-up","circle","square"]},"legend":null}
}}
]
},
{
"width":519,"height":312,
"data":{"name":"b"},
"transform":[{"lookup":"s","from":{"data":{"name":"names"},"key":"s","fields":["name"]}}],
"title":{"text":"(b)","orient":"bottom","anchor":"start","frame":"bounds","offset":-56,"fontSize":23,"fontWeight":"normal","font":"Lato","color":"black","baseline":"top"},
"resolve":{"axis":{"x":"independent","y":"independent"}},
"layer":[
{"mark":{"type":"line","interpolate":"monotone","clip":false},
"encoding":{
"x":{"field":"x","type":"quantitative","scale":{"domain":[-5,25],"nice":false,"zero":false},"axis":{"orient":"bottom","values":[-5,-4,-3,-2,-1,0,1,2,3,4,5,6,7,8,9,10,11,12,13,14,15,16,17,18,19,20,21,22,23,24,25],"labelExpr":"datum.value % 5 === 0 ? '' + datum.value : ''","title":"CAD (ATDC)","labelPadding":32,"titlePadding":8}},
"y":{"field":"y","type":"quantitative","scale":{"domain":[-10,80],"nice":false,"zero":false},"axis":{"orient":"left","values":[-10,-5,0,5,10,15,20,25,30,35,40,45,50,55,60,65,70,75,80],"labelExpr":"datum.value % 10 === 0 ? '' + datum.value : ''","title":"Heat release rate (J/deg)","labelPadding":32,"titlePadding":7}},
"color":{"field":"name","type":"nominal","scale":{"domain":["Heptane","10%M-XYL/HEP","20%M-XYL/HEP","30%M-XYL/HEP","45%M-XYL/HEP","50%M-XYL/HEP","Fossil diesel"],"range":["#000000","#777777","#777777","#777777","#777777","#000000","#000000"]},
"legend":{"orient":"top-right","offset":13,"encode":{"symbols":{"update":{"shape":{"signal":"datum.value === '10%M-XYL/HEP' ? 'M-1,0H1M-0.25,-0.25L0.25,0.25M-0.25,0.25L0.25,-0.25' : datum.value === '20%M-XYL/HEP' ? 'M-1,0H1M0,-0.32L0.3,0.2L-0.3,0.2Z' : datum.value === '30%M-XYL/HEP' ? 'M-1,0H-0.27M0.27,0H1M0.27,0A0.27,0.27 0 1,1 -0.27,0A0.27,0.27 0 1,1 0.27,0' : datum.value === '45%M-XYL/HEP' ? 'M-1,0H1M-0.24,-0.24H0.24V0.24H-0.24Z' : 'M-1,0H1'"},"strokeDash":{"signal":"datum.value === 'Heptane' ? [1.5,1.5] : datum.value === '50%M-XYL/HEP' ? [11,4] : [1,0]"}}}}}},
"strokeDash":{"field":"name","type":"nominal","scale":{"domain":["Heptane","10%M-XYL/HEP","20%M-XYL/HEP","30%M-XYL/HEP","45%M-XYL/HEP","50%M-XYL/HEP","Fossil diesel"],"range":[[1.5,2],[1,0],[1,0],[1,0],[1,0],[9,4],[1,0]]},"legend":null},
"strokeWidth":{"field":"name","type":"ordinal","scale":{"domain":["Heptane","10%M-XYL/HEP","20%M-XYL/HEP","30%M-XYL/HEP","45%M-XYL/HEP","50%M-XYL/HEP","Fossil diesel"],"range":[1.6,1,1,1,1,1.5,1.5]},"legend":null}
}},
{"transform":[{"filter":"indexof(['10','20','30','45'], datum.s) >= 0"}],
"mark":{"type":"point","filled":false,"size":30,"strokeWidth":1,"color":"#333333","opacity":1,"clip":false},
"encoding":{
"x":{"field":"x","type":"quantitative","axis":{"orient":"top","values":[-5,-4,-3,-2,-1,0,1,2,3,4,5,6,7,8,9,10,11,12,13,14,15,16,17,18,19,20,21,22,23,24,25],"labels":false,"title":null}},
"y":{"field":"y","type":"quantitative","axis":{"orient":"right","values":[-10,-5,0,5,10,15,20,25,30,35,40,45,50,55,60,65,70,75,80],"labels":false,"title":null}},
"shape":{"field":"name","type":"nominal","scale":{"domain":["10%M-XYL/HEP","20%M-XYL/HEP","30%M-XYL/HEP","45%M-XYL/HEP"],"range":["M-1,-1L1,1M-1,1L1,-1","triangle-up","circle","square"]},"legend":null}
}}
]
}
]
}
